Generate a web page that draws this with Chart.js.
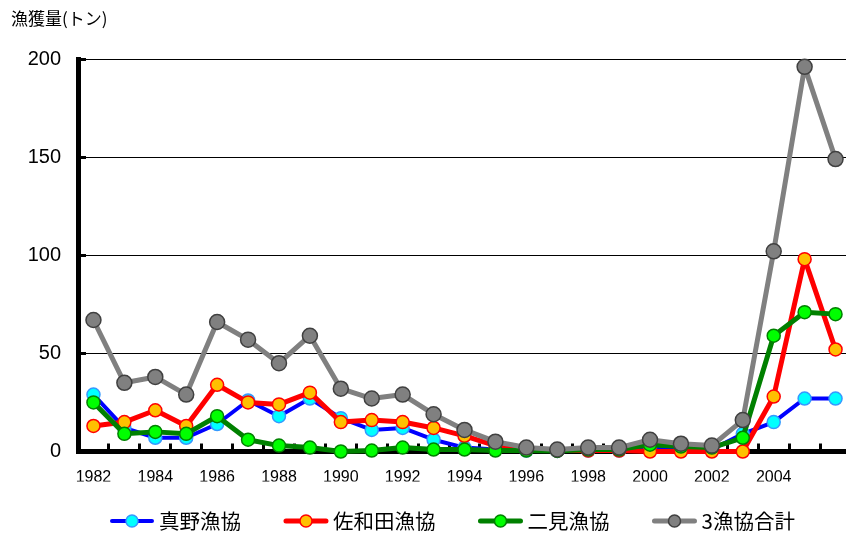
<!DOCTYPE html>
<html lang="ja">
<head>
<meta charset="utf-8">
<title>漁獲量</title>
<script src="https://cdn.jsdelivr.net/npm/chart.js@4.4.1/dist/chart.umd.min.js"></script>
<style>
  html, body { margin: 0; padding: 0; background: #fff; }
  #wrap { position: relative; width: 846px; height: 535px; overflow: hidden; }
  #chart { position: absolute; left: 0; top: 0; }
  #title {
    position: absolute; left: 11px; top: 9px;
    font-family: 'Noto Sans CJK JP', sans-serif; font-size: 17px; line-height: 1;
    color: #000; white-space: nowrap;
  }
</style>
</head>
<body>
<div id="wrap">
  <canvas id="chart" width="851" height="535"></canvas>
  <div id="title">漁獲量(トン)</div>
</div>
<script>
// years on the x axis, only some of them get a label
const years = ['1982', '1983', '1984', '1985', '1986', '1987', '1988', '1989', '1990', '1991',
  '1992', '1993', '1994', '1995', '1996', '1997', '1998', '1999', '2000', '2001',
  '2002', '2003', '2004', '2005', '2006'];
const tickLabels = ['1982', '1984', '1986', '1988', '1990', '1992', '1994', '1996', '1998', '2000', '2002', '2004'];
const yTicks = [0, 50, 100, 150, 200];

// catch in tonnes
const mano = [29, 12, 7, 7, 14, 26, 18, 27, 17, 11, 12, 6, 2, 1, 0.5, 0.3, 0.5, 0.5, 2, 1, 1, 9, 15, 27, 27];
const sawada = [13, 15, 21, 13, 34, 25, 24, 30, 15, 16, 15, 12, 8, 3, 1, 0.5, 0.5, 0.5, 0, 0, 0, 0, 28, 98, 52];
const futami = [25, 9, 10, 9, 18, 6, 3, 2, 0, 0.5, 2, 1, 1, 0.5, 0.5, 0.3, 1, 1, 3.5, 2.5, 2, 7, 59, 71, 70];
const total = [67, 35, 38, 29, 66, 57, 45, 59, 32, 27, 29, 19, 11, 5, 2, 1, 2, 2, 6, 4, 3, 16, 102, 196, 149];

function series(label, data, line, width, fill, edge, radius, order) {
  return {
    label: label,
    data: data,
    borderColor: line,
    borderWidth: width,
    borderJoinStyle: 'round',
    borderCapStyle: 'round',
    pointBackgroundColor: fill,
    pointBorderColor: edge,
    pointBorderWidth: 1.5,
    pointRadius: radius,
    tension: 0,
    clip: false,
    order: order
  };
}

// legend under the chart: line + marker, then the name
const lineLegend = {
  id: 'lineLegend',
  afterDraw(chart) {
    const ctx = chart.ctx;
    const y = 521;
    let x = 110;
    ctx.save();
    ctx.font = '20.5px "Noto Sans CJK JP"';
    ctx.textBaseline = 'middle';
    ctx.lineCap = 'round';
    chart.data.datasets.forEach(ds => {
      ctx.strokeStyle = ds.borderColor;
      ctx.lineWidth = ds.borderWidth;
      ctx.beginPath();
      ctx.moveTo(x + 2, y);
      ctx.lineTo(x + 42, y);
      ctx.stroke();
      ctx.beginPath();
      ctx.arc(x + 22, y, 6, 0, Math.PI * 2);
      ctx.fillStyle = ds.pointBackgroundColor;
      ctx.fill();
      ctx.lineWidth = ds.pointBorderWidth;
      ctx.strokeStyle = ds.pointBorderColor;
      ctx.stroke();
      ctx.fillStyle = '#000';
      ctx.fillText(ds.label, x + 49, y);
      x += 49 + ctx.measureText(ds.label).width + 43;
    });
    ctx.restore();
  }
};

new Chart(document.getElementById('chart'), {
  type: 'line',
  data: {
    labels: years,
    datasets: [
      series('真野漁協', mano, '#0000FF', 4, '#00FFFF', '#3399FF', 6.5, 4),
      series('佐和田漁協', sawada, '#FF0000', 5, '#FFC000', '#FF0000', 6.5, 3),
      series('二見漁協', futami, '#008000', 5, '#00FF00', '#008000', 6.5, 2),
      series('3漁協合計', total, '#808080', 5, '#808080', '#404040', 7.5, 1)
    ]
  },
  options: {
    responsive: false,
    animation: false,
    layout: { autoPadding: false, padding: { top: 59, bottom: 53.5, left: 0, right: 0 } },
    plugins: {
      legend: { display: false },
      tooltip: { enabled: false }
    },
    scales: {
      x: {
        offset: true,
        grid: {
          offset: true,
          drawOnChartArea: false,
          drawTicks: true,
          tickLength: -8,
          tickWidth: 3,
          tickColor: '#000'
        },
        border: { color: '#000', width: 5 },
        ticks: {
          autoSkip: false,
          maxRotation: 0,
          padding: 12,
          color: '#000',
          font: { family: 'Liberation Sans', size: 16, lineHeight: 2.7 },
          callback: (v, i) => tickLabels.includes(years[i]) ? years[i] : ''
        },
        afterFit: s => { s.height = 30; }
      },
      y: {
        min: yTicks[0],
        max: yTicks[yTicks.length - 1],
        ticks: {
          stepSize: yTicks[1] - yTicks[0],
          padding: 25,
          color: '#000',
          font: { family: 'Liberation Sans', size: 20 }
        },
        grid: {
          color: '#000',
          lineWidth: 1,
          drawTicks: true,
          tickLength: -8,
          tickWidth: 3,
          tickColor: '#000'
        },
        border: { color: '#000', width: 5 },
        afterFit: s => { s.width = 78; }
      }
    }
  },
  plugins: [lineLegend]
});
</script>
</body>
</html>
